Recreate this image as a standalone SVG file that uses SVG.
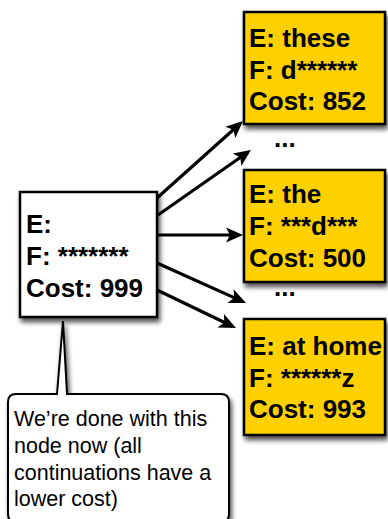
<svg xmlns="http://www.w3.org/2000/svg" width="388" height="519" viewBox="0 0 388 519">
  <defs>
    <filter id="shadow" x="-20%" y="-20%" width="140%" height="140%">
      <feGaussianBlur in="SourceAlpha" stdDeviation="2.5"/>
      <feOffset dx="2" dy="4" result="blur"/>
      <feComponentTransfer><feFuncA type="linear" slope="0.7"/></feComponentTransfer>
      <feMerge><feMergeNode/><feMergeNode in="SourceGraphic"/></feMerge>
    </filter>
    <marker id="head" viewBox="-15 -9 20 18" refX="0" refY="0" markerWidth="20" markerHeight="18" markerUnits="userSpaceOnUse" orient="auto">
      <path d="M4,0 L-13,-7.5 L-9,0 L-13,7.5 Z" fill="#000"/>
    </marker>
  </defs>
  <style>
    .box { stroke: #000; stroke-width: 2.5; }
    .hyp { fill: #FFD000; }
    .cur { fill: #fff; }
    .lbl { font-family: "Liberation Sans", Arial, sans-serif; font-weight: bold; font-size: 26px; fill: #000; }
    .note { font-family: "Liberation Sans", Arial, sans-serif; font-size: 21.5px; fill: #000; }
    .edge { stroke: #000; stroke-width: 3.2; fill: none; marker-end: url(#head); }
  </style>

  <!-- expansion edges -->
  <g id="connectors">
    <line class="edge" x1="157" y1="198" x2="240" y2="123.7"/>
    <line class="edge" x1="158" y1="215" x2="247.7" y2="152.3"/>
    <line class="edge" x1="157" y1="235" x2="239" y2="235"/>
    <line class="edge" x1="157" y1="263" x2="242.4" y2="301.4"/>
    <line class="edge" x1="157" y1="290" x2="232.4" y2="326.3"/>
  </g>

  <!-- current hypothesis -->
  <g id="node-current">
    <rect class="box cur" x="20" y="192" width="137" height="125" filter="url(#shadow)"/>
    <text class="lbl" x="26" y="233">E:</text>
    <text class="lbl" x="26" y="265">F: *******</text>
    <text class="lbl" x="26" y="297">Cost: 999</text>
  </g>

  <g id="node-these">
    <rect class="box hyp" x="244" y="12" width="141" height="112" filter="url(#shadow)"/>
    <text class="lbl" x="249" y="47">E: these</text>
    <text class="lbl" x="249" y="79">F: d******</text>
    <text class="lbl" x="249" y="110">Cost: 852</text>
  </g>

  <g id="gap-1">
    <text class="lbl" x="274" y="147">...</text>
  </g>

  <g id="node-the">
    <rect class="box hyp" x="244" y="170" width="141" height="112" filter="url(#shadow)"/>
    <text class="lbl" x="249" y="203">E: the</text>
    <text class="lbl" x="249" y="235">F: ***d***</text>
    <text class="lbl" x="249" y="267">Cost: 500</text>
  </g>

  <g id="gap-2">
    <text class="lbl" x="274" y="296">...</text>
  </g>

  <g id="node-at-home">
    <rect class="box hyp" x="244" y="319" width="141" height="116" filter="url(#shadow)"/>
    <text class="lbl" x="249" y="355">E: at home</text>
    <text class="lbl" x="249" y="387">F: ******z</text>
    <text class="lbl" x="249" y="418">Cost: 993</text>
  </g>

  <!-- callout -->
  <g id="callout">
    <path d="M16,394 L57,394 L63,321 L67,394 L221,394 Q229,394 229,402 L229,514 Q229,522 221,522 L16,522 Q8,522 8,514 L8,402 Q8,394 16,394 Z" fill="#fff" stroke="#000" stroke-width="2" stroke-linejoin="miter" filter="url(#shadow)"/>
    <text class="note" x="14" y="426">We’re done with this</text>
    <text class="note" x="14" y="453">node now (all</text>
    <text class="note" x="14" y="480">continuations have a</text>
    <text class="note" x="14" y="506">lower cost)</text>
  </g>
</svg>
